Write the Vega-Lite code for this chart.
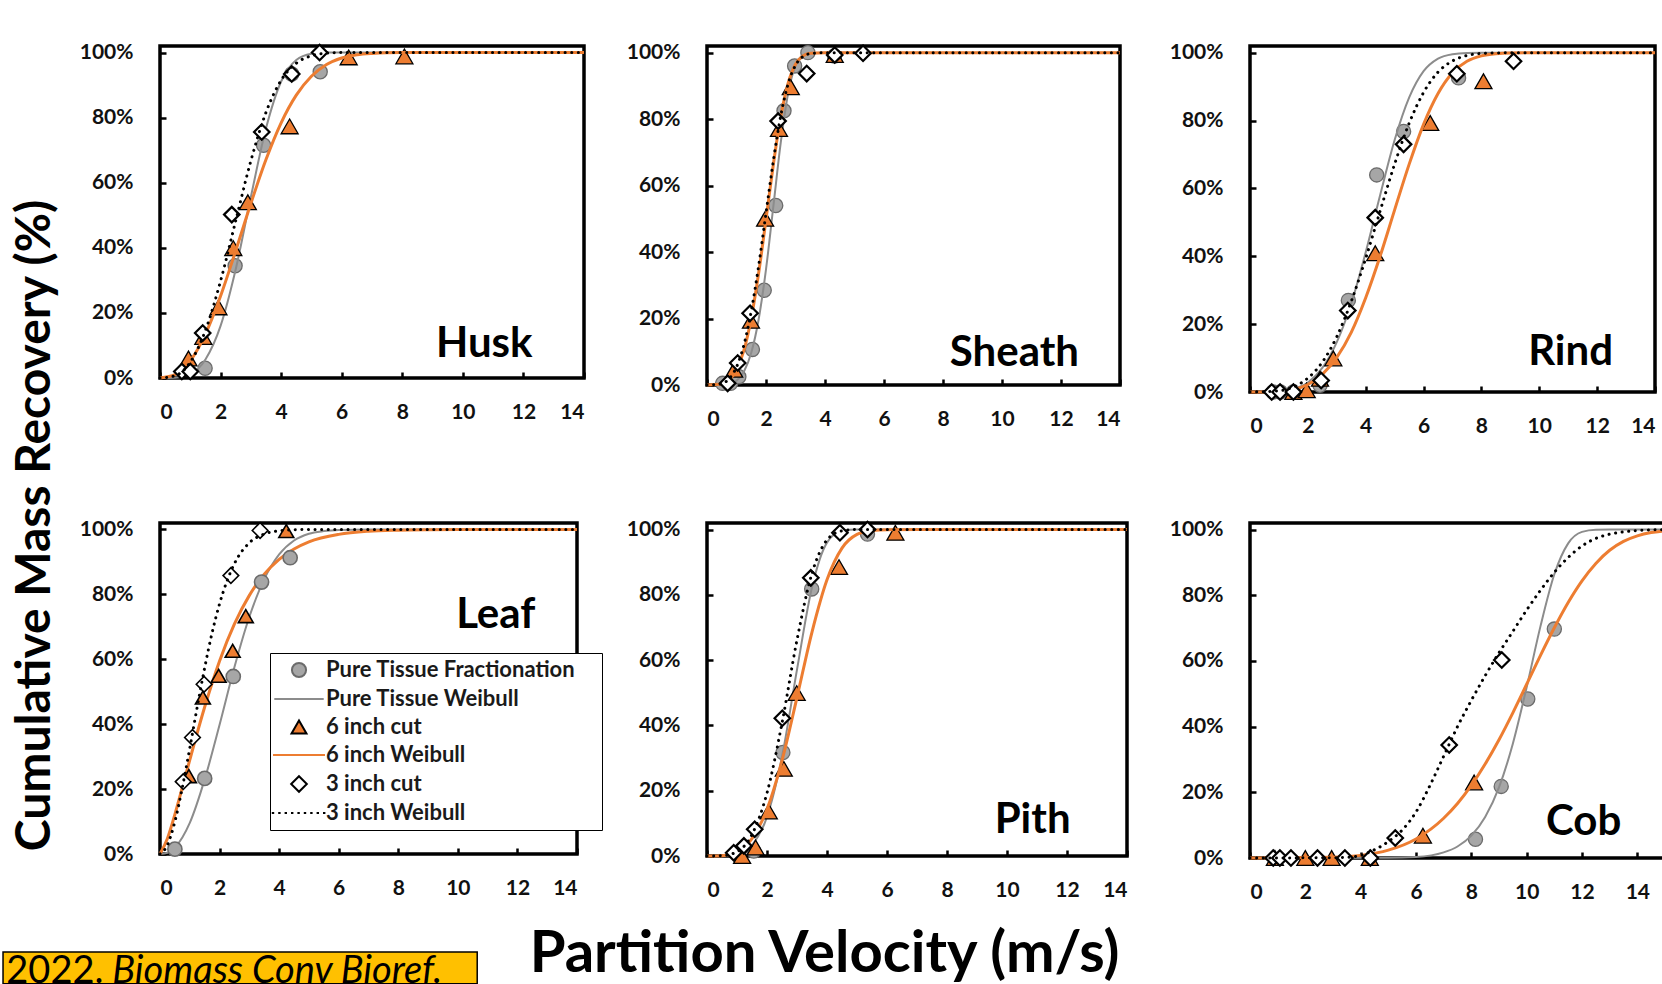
{
"$schema": "https://vega.github.io/schema/vega-lite/v6.json",
"background": "white",
"padding": {"left": 0, "top": 38, "right": 0, "bottom": 0},
"columns": 3,
"align": "none",
"bounds": "flush",
"spacing": {"row": 131, "column": 123},
"resolve": {"scale": {"shape": "independent", "fill": "independent", "stroke": "independent", "size": "independent"}, "legend": {"shape": "independent", "fill": "independent", "stroke": "independent", "size": "independent"}},
"config": {
  "font": "Lato",
  "view": {"stroke": "#000", "strokeWidth": 3.5},
  "axis": {"labelFont": "Lato", "labelFontSize": 21, "labelFontWeight": "bold", "labelColor": "#111", "domain": false, "grid": false, "ticks": true, "tickColor": "#000", "tickWidth": 2.5, "tickSize": -6, "titleFont": "Lato", "titleFontWeight": "bold", "titleColor": "#000"},
  "axisX": {"labelPadding": 29},
  "axisY": {"labelPadding": 33}
},
"datasets": {"d": [
{"p":"Husk","s":"Pure Tissue Fractionation","x":1.49,"y":0.03},{"p":"Husk","s":"Pure Tissue Fractionation","x":2.48,"y":0.345},{"p":"Husk","s":"Pure Tissue Fractionation","x":3.42,"y":0.715},{"p":"Husk","s":"Pure Tissue Fractionation","x":4.35,"y":0.934},{"p":"Husk","s":"Pure Tissue Fractionation","x":5.29,"y":0.941},
{"p":"Husk","s":"6 inch cut","x":0.94,"y":0.06},{"p":"Husk","s":"6 inch cut","x":1.43,"y":0.126},{"p":"Husk","s":"6 inch cut","x":1.93,"y":0.217},{"p":"Husk","s":"6 inch cut","x":2.42,"y":0.399},{"p":"Husk","s":"6 inch cut","x":2.9,"y":0.54},{"p":"Husk","s":"6 inch cut","x":4.28,"y":0.773},{"p":"Husk","s":"6 inch cut","x":6.23,"y":0.985},{"p":"Husk","s":"6 inch cut","x":8.07,"y":0.988},
{"p":"Husk","s":"3 inch cut","x":0.72,"y":0.02},{"p":"Husk","s":"3 inch cut","x":1.0,"y":0.02},{"p":"Husk","s":"3 inch cut","x":1.41,"y":0.138},{"p":"Husk","s":"3 inch cut","x":2.37,"y":0.502},{"p":"Husk","s":"3 inch cut","x":3.36,"y":0.756},{"p":"Husk","s":"3 inch cut","x":4.35,"y":0.934},{"p":"Husk","s":"3 inch cut","x":5.27,"y":1.0},
{"p":"Sheath","s":"Pure Tissue Fractionation","x":0.53,"y":0.005},{"p":"Sheath","s":"Pure Tissue Fractionation","x":0.8,"y":0.005},{"p":"Sheath","s":"Pure Tissue Fractionation","x":1.08,"y":0.025},{"p":"Sheath","s":"Pure Tissue Fractionation","x":1.54,"y":0.107},{"p":"Sheath","s":"Pure Tissue Fractionation","x":1.94,"y":0.285},{"p":"Sheath","s":"Pure Tissue Fractionation","x":2.33,"y":0.54},{"p":"Sheath","s":"Pure Tissue Fractionation","x":2.61,"y":0.825},{"p":"Sheath","s":"Pure Tissue Fractionation","x":2.97,"y":0.96},{"p":"Sheath","s":"Pure Tissue Fractionation","x":3.42,"y":1.0},{"p":"Sheath","s":"Pure Tissue Fractionation","x":4.32,"y":0.99},
{"p":"Sheath","s":"6 inch cut","x":0.92,"y":0.046},{"p":"Sheath","s":"6 inch cut","x":1.49,"y":0.193},{"p":"Sheath","s":"6 inch cut","x":1.97,"y":0.5},{"p":"Sheath","s":"6 inch cut","x":2.44,"y":0.77},{"p":"Sheath","s":"6 inch cut","x":2.84,"y":0.896},{"p":"Sheath","s":"6 inch cut","x":4.33,"y":0.993},
{"p":"Sheath","s":"3 inch cut","x":0.7,"y":0.005},{"p":"Sheath","s":"3 inch cut","x":1.04,"y":0.066},{"p":"Sheath","s":"3 inch cut","x":1.46,"y":0.216},{"p":"Sheath","s":"3 inch cut","x":2.41,"y":0.794},{"p":"Sheath","s":"3 inch cut","x":3.38,"y":0.937},{"p":"Sheath","s":"3 inch cut","x":4.33,"y":0.993},{"p":"Sheath","s":"3 inch cut","x":5.29,"y":0.998},
{"p":"Rind","s":"Pure Tissue Fractionation","x":0.8,"y":0},{"p":"Rind","s":"Pure Tissue Fractionation","x":1.05,"y":0},{"p":"Rind","s":"Pure Tissue Fractionation","x":1.5,"y":0},{"p":"Rind","s":"Pure Tissue Fractionation","x":2.42,"y":0.02},{"p":"Rind","s":"Pure Tissue Fractionation","x":3.4,"y":0.27},{"p":"Rind","s":"Pure Tissue Fractionation","x":4.38,"y":0.64},{"p":"Rind","s":"Pure Tissue Fractionation","x":5.31,"y":0.768},{"p":"Rind","s":"Pure Tissue Fractionation","x":7.21,"y":0.926},
{"p":"Rind","s":"6 inch cut","x":1.5,"y":0},{"p":"Rind","s":"6 inch cut","x":1.96,"y":0.005},{"p":"Rind","s":"6 inch cut","x":2.42,"y":0.039},{"p":"Rind","s":"6 inch cut","x":2.88,"y":0.099},{"p":"Rind","s":"6 inch cut","x":4.33,"y":0.409},{"p":"Rind","s":"6 inch cut","x":6.23,"y":0.793},{"p":"Rind","s":"6 inch cut","x":8.07,"y":0.916},
{"p":"Rind","s":"3 inch cut","x":0.75,"y":0},{"p":"Rind","s":"3 inch cut","x":1.04,"y":0},{"p":"Rind","s":"3 inch cut","x":1.5,"y":0},{"p":"Rind","s":"3 inch cut","x":2.46,"y":0.034},{"p":"Rind","s":"3 inch cut","x":3.38,"y":0.24},{"p":"Rind","s":"3 inch cut","x":4.33,"y":0.514},{"p":"Rind","s":"3 inch cut","x":5.31,"y":0.73},{"p":"Rind","s":"3 inch cut","x":7.15,"y":0.938},{"p":"Rind","s":"3 inch cut","x":9.11,"y":0.975},
{"p":"Leaf","s":"Pure Tissue Fractionation","x":0.5,"y":0.015},{"p":"Leaf","s":"Pure Tissue Fractionation","x":1.5,"y":0.233},{"p":"Leaf","s":"Pure Tissue Fractionation","x":2.46,"y":0.547},{"p":"Leaf","s":"Pure Tissue Fractionation","x":3.41,"y":0.838},{"p":"Leaf","s":"Pure Tissue Fractionation","x":4.37,"y":0.913},
{"p":"Leaf","s":"6 inch cut","x":0.97,"y":0.24},{"p":"Leaf","s":"6 inch cut","x":1.44,"y":0.482},{"p":"Leaf","s":"6 inch cut","x":1.97,"y":0.549},{"p":"Leaf","s":"6 inch cut","x":2.44,"y":0.626},{"p":"Leaf","s":"6 inch cut","x":2.88,"y":0.733},{"p":"Leaf","s":"6 inch cut","x":4.24,"y":0.995},
{"p":"Leaf","s":"3 inch cut","x":0.78,"y":0.223},{"p":"Leaf","s":"3 inch cut","x":1.09,"y":0.359},{"p":"Leaf","s":"3 inch cut","x":1.48,"y":0.523},{"p":"Leaf","s":"3 inch cut","x":2.38,"y":0.858},{"p":"Leaf","s":"3 inch cut","x":3.36,"y":0.997},
{"p":"Pith","s":"Pure Tissue Fractionation","x":1.56,"y":0.015},{"p":"Pith","s":"Pure Tissue Fractionation","x":2.53,"y":0.317},{"p":"Pith","s":"Pure Tissue Fractionation","x":3.49,"y":0.818},{"p":"Pith","s":"Pure Tissue Fractionation","x":5.35,"y":0.986},
{"p":"Pith","s":"6 inch cut","x":1.17,"y":0},{"p":"Pith","s":"6 inch cut","x":1.62,"y":0.026},{"p":"Pith","s":"6 inch cut","x":2.06,"y":0.136},{"p":"Pith","s":"6 inch cut","x":2.56,"y":0.267},{"p":"Pith","s":"6 inch cut","x":2.99,"y":0.499},{"p":"Pith","s":"6 inch cut","x":4.4,"y":0.885},{"p":"Pith","s":"6 inch cut","x":6.28,"y":0.99},
{"p":"Pith","s":"3 inch cut","x":0.89,"y":0.01},{"p":"Pith","s":"3 inch cut","x":1.23,"y":0.031},{"p":"Pith","s":"3 inch cut","x":1.59,"y":0.082},{"p":"Pith","s":"3 inch cut","x":2.51,"y":0.422},{"p":"Pith","s":"3 inch cut","x":3.46,"y":0.852},{"p":"Pith","s":"3 inch cut","x":4.43,"y":0.99},{"p":"Pith","s":"3 inch cut","x":5.35,"y":1.0},
{"p":"Cob","s":"Pure Tissue Fractionation","x":8.15,"y":0.057},{"p":"Cob","s":"Pure Tissue Fractionation","x":9.08,"y":0.218},{"p":"Cob","s":"Pure Tissue Fractionation","x":10.04,"y":0.484},{"p":"Cob","s":"Pure Tissue Fractionation","x":11.0,"y":0.697},
{"p":"Cob","s":"6 inch cut","x":0.9,"y":0},{"p":"Cob","s":"6 inch cut","x":2.0,"y":0},{"p":"Cob","s":"6 inch cut","x":2.95,"y":0},{"p":"Cob","s":"6 inch cut","x":4.33,"y":0},{"p":"Cob","s":"6 inch cut","x":6.25,"y":0.068},{"p":"Cob","s":"6 inch cut","x":8.1,"y":0.23},
{"p":"Cob","s":"3 inch cut","x":0.84,"y":0},{"p":"Cob","s":"3 inch cut","x":1.08,"y":0},{"p":"Cob","s":"3 inch cut","x":1.48,"y":0},{"p":"Cob","s":"3 inch cut","x":2.44,"y":0},{"p":"Cob","s":"3 inch cut","x":3.43,"y":0},{"p":"Cob","s":"3 inch cut","x":4.35,"y":0},{"p":"Cob","s":"3 inch cut","x":5.25,"y":0.061},{"p":"Cob","s":"3 inch cut","x":7.2,"y":0.344},{"p":"Cob","s":"3 inch cut","x":9.1,"y":0.603},
{"p":"Husk","s":"Pure Tissue Weibull","x":0,"y":0},{"p":"Husk","s":"Pure Tissue Weibull","x":0.5,"y":0.001},{"p":"Husk","s":"Pure Tissue Weibull","x":1,"y":0.012},{"p":"Husk","s":"Pure Tissue Weibull","x":1.5,"y":0.057},{"p":"Husk","s":"Pure Tissue Weibull","x":2,"y":0.16},{"p":"Husk","s":"Pure Tissue Weibull","x":2.5,"y":0.334},{"p":"Husk","s":"Pure Tissue Weibull","x":3,"y":0.556},{"p":"Husk","s":"Pure Tissue Weibull","x":3.5,"y":0.767},{"p":"Husk","s":"Pure Tissue Weibull","x":4,"y":0.911},{"p":"Husk","s":"Pure Tissue Weibull","x":4.5,"y":0.977},{"p":"Husk","s":"Pure Tissue Weibull","x":5,"y":0.996},{"p":"Husk","s":"Pure Tissue Weibull","x":5.5,"y":1},{"p":"Husk","s":"Pure Tissue Weibull","x":14,"y":1},
{"p":"Husk","s":"6 inch Weibull","x":0,"y":0},{"p":"Husk","s":"6 inch Weibull","x":0.5,"y":0.01},{"p":"Husk","s":"6 inch Weibull","x":1,"y":0.053},{"p":"Husk","s":"6 inch Weibull","x":1.5,"y":0.135},{"p":"Husk","s":"6 inch Weibull","x":2,"y":0.252},{"p":"Husk","s":"6 inch Weibull","x":2.5,"y":0.391},{"p":"Husk","s":"6 inch Weibull","x":3,"y":0.536},{"p":"Husk","s":"6 inch Weibull","x":3.5,"y":0.671},{"p":"Husk","s":"6 inch Weibull","x":4,"y":0.784},{"p":"Husk","s":"6 inch Weibull","x":4.5,"y":0.869},{"p":"Husk","s":"6 inch Weibull","x":5,"y":0.927},{"p":"Husk","s":"6 inch Weibull","x":5.5,"y":0.963},{"p":"Husk","s":"6 inch Weibull","x":6,"y":0.983},{"p":"Husk","s":"6 inch Weibull","x":6.5,"y":0.993},{"p":"Husk","s":"6 inch Weibull","x":7,"y":0.997},{"p":"Husk","s":"6 inch Weibull","x":8,"y":0.9997},{"p":"Husk","s":"6 inch Weibull","x":9,"y":1},{"p":"Husk","s":"6 inch Weibull","x":14,"y":1},
{"p":"Husk","s":"3 inch Weibull","x":0,"y":0},{"p":"Husk","s":"3 inch Weibull","x":0.5,"y":0.007},{"p":"Husk","s":"3 inch Weibull","x":1,"y":0.049},{"p":"Husk","s":"3 inch Weibull","x":1.5,"y":0.146},{"p":"Husk","s":"3 inch Weibull","x":2,"y":0.298},{"p":"Husk","s":"3 inch Weibull","x":2.5,"y":0.483},{"p":"Husk","s":"3 inch Weibull","x":3,"y":0.667},{"p":"Husk","s":"3 inch Weibull","x":3.5,"y":0.816},{"p":"Husk","s":"3 inch Weibull","x":4,"y":0.915},{"p":"Husk","s":"3 inch Weibull","x":4.5,"y":0.967},{"p":"Husk","s":"3 inch Weibull","x":5,"y":0.99},{"p":"Husk","s":"3 inch Weibull","x":5.5,"y":0.998},{"p":"Husk","s":"3 inch Weibull","x":6,"y":1},{"p":"Husk","s":"3 inch Weibull","x":14,"y":1},
{"p":"Sheath","s":"Pure Tissue Weibull","x":0,"y":0},{"p":"Sheath","s":"Pure Tissue Weibull","x":0.5,"y":0.0004},{"p":"Sheath","s":"Pure Tissue Weibull","x":0.75,"y":0.003},{"p":"Sheath","s":"Pure Tissue Weibull","x":1,"y":0.013},{"p":"Sheath","s":"Pure Tissue Weibull","x":1.25,"y":0.04},{"p":"Sheath","s":"Pure Tissue Weibull","x":1.5,"y":0.097},{"p":"Sheath","s":"Pure Tissue Weibull","x":1.75,"y":0.197},{"p":"Sheath","s":"Pure Tissue Weibull","x":2,"y":0.348},{"p":"Sheath","s":"Pure Tissue Weibull","x":2.25,"y":0.538},{"p":"Sheath","s":"Pure Tissue Weibull","x":2.5,"y":0.729},{"p":"Sheath","s":"Pure Tissue Weibull","x":2.75,"y":0.878},{"p":"Sheath","s":"Pure Tissue Weibull","x":3,"y":0.961},{"p":"Sheath","s":"Pure Tissue Weibull","x":3.25,"y":0.992},{"p":"Sheath","s":"Pure Tissue Weibull","x":3.5,"y":0.999},{"p":"Sheath","s":"Pure Tissue Weibull","x":4,"y":1},{"p":"Sheath","s":"Pure Tissue Weibull","x":14,"y":1},
{"p":"Sheath","s":"6 inch Weibull","x":0,"y":0},{"p":"Sheath","s":"6 inch Weibull","x":0.5,"y":0.003},{"p":"Sheath","s":"6 inch Weibull","x":0.75,"y":0.015},{"p":"Sheath","s":"6 inch Weibull","x":1,"y":0.045},{"p":"Sheath","s":"6 inch Weibull","x":1.25,"y":0.104},{"p":"Sheath","s":"6 inch Weibull","x":1.5,"y":0.201},{"p":"Sheath","s":"6 inch Weibull","x":1.75,"y":0.336},{"p":"Sheath","s":"6 inch Weibull","x":2,"y":0.498},{"p":"Sheath","s":"6 inch Weibull","x":2.25,"y":0.664},{"p":"Sheath","s":"6 inch Weibull","x":2.5,"y":0.807},{"p":"Sheath","s":"6 inch Weibull","x":2.75,"y":0.908},{"p":"Sheath","s":"6 inch Weibull","x":3,"y":0.965},{"p":"Sheath","s":"6 inch Weibull","x":3.25,"y":0.99},{"p":"Sheath","s":"6 inch Weibull","x":3.5,"y":0.998},{"p":"Sheath","s":"6 inch Weibull","x":4,"y":1},{"p":"Sheath","s":"6 inch Weibull","x":14,"y":1},
{"p":"Sheath","s":"3 inch Weibull","x":0,"y":0},{"p":"Sheath","s":"3 inch Weibull","x":0.5,"y":0.004},{"p":"Sheath","s":"3 inch Weibull","x":0.75,"y":0.019},{"p":"Sheath","s":"3 inch Weibull","x":1,"y":0.054},{"p":"Sheath","s":"3 inch Weibull","x":1.25,"y":0.12},{"p":"Sheath","s":"3 inch Weibull","x":1.5,"y":0.222},{"p":"Sheath","s":"3 inch Weibull","x":1.75,"y":0.358},{"p":"Sheath","s":"3 inch Weibull","x":2,"y":0.517},{"p":"Sheath","s":"3 inch Weibull","x":2.25,"y":0.675},{"p":"Sheath","s":"3 inch Weibull","x":2.5,"y":0.81},{"p":"Sheath","s":"3 inch Weibull","x":2.75,"y":0.906},{"p":"Sheath","s":"3 inch Weibull","x":3,"y":0.962},{"p":"Sheath","s":"3 inch Weibull","x":3.25,"y":0.988},{"p":"Sheath","s":"3 inch Weibull","x":3.5,"y":0.997},{"p":"Sheath","s":"3 inch Weibull","x":4,"y":1},{"p":"Sheath","s":"3 inch Weibull","x":14,"y":1},
{"p":"Rind","s":"Pure Tissue Weibull","x":0,"y":0},{"p":"Rind","s":"Pure Tissue Weibull","x":1,"y":0.002},{"p":"Rind","s":"Pure Tissue Weibull","x":1.5,"y":0.009},{"p":"Rind","s":"Pure Tissue Weibull","x":2,"y":0.028},{"p":"Rind","s":"Pure Tissue Weibull","x":2.5,"y":0.071},{"p":"Rind","s":"Pure Tissue Weibull","x":3,"y":0.147},{"p":"Rind","s":"Pure Tissue Weibull","x":3.5,"y":0.261},{"p":"Rind","s":"Pure Tissue Weibull","x":4,"y":0.412},{"p":"Rind","s":"Pure Tissue Weibull","x":4.5,"y":0.581},{"p":"Rind","s":"Pure Tissue Weibull","x":5,"y":0.743},{"p":"Rind","s":"Pure Tissue Weibull","x":5.5,"y":0.868},{"p":"Rind","s":"Pure Tissue Weibull","x":6,"y":0.946},{"p":"Rind","s":"Pure Tissue Weibull","x":6.5,"y":0.983},{"p":"Rind","s":"Pure Tissue Weibull","x":7,"y":0.996},{"p":"Rind","s":"Pure Tissue Weibull","x":7.5,"y":0.9995},{"p":"Rind","s":"Pure Tissue Weibull","x":8,"y":1},{"p":"Rind","s":"Pure Tissue Weibull","x":14,"y":1},
{"p":"Rind","s":"6 inch Weibull","x":0,"y":0},{"p":"Rind","s":"6 inch Weibull","x":1,"y":0.0015},{"p":"Rind","s":"6 inch Weibull","x":1.5,"y":0.007},{"p":"Rind","s":"6 inch Weibull","x":2,"y":0.022},{"p":"Rind","s":"6 inch Weibull","x":2.5,"y":0.052},{"p":"Rind","s":"6 inch Weibull","x":3,"y":0.102},{"p":"Rind","s":"6 inch Weibull","x":3.5,"y":0.176},{"p":"Rind","s":"6 inch Weibull","x":4,"y":0.278},{"p":"Rind","s":"6 inch Weibull","x":4.5,"y":0.401},{"p":"Rind","s":"6 inch Weibull","x":5,"y":0.537},{"p":"Rind","s":"6 inch Weibull","x":5.5,"y":0.671},{"p":"Rind","s":"6 inch Weibull","x":6,"y":0.789},{"p":"Rind","s":"6 inch Weibull","x":6.5,"y":0.88},{"p":"Rind","s":"6 inch Weibull","x":7,"y":0.941},{"p":"Rind","s":"6 inch Weibull","x":7.5,"y":0.975},{"p":"Rind","s":"6 inch Weibull","x":8,"y":0.991},{"p":"Rind","s":"6 inch Weibull","x":8.5,"y":0.9975},{"p":"Rind","s":"6 inch Weibull","x":9,"y":0.9995},{"p":"Rind","s":"6 inch Weibull","x":10,"y":1},{"p":"Rind","s":"6 inch Weibull","x":14,"y":1},
{"p":"Rind","s":"3 inch Weibull","x":0,"y":0},{"p":"Rind","s":"3 inch Weibull","x":1,"y":0.0035},{"p":"Rind","s":"3 inch Weibull","x":1.5,"y":0.015},{"p":"Rind","s":"3 inch Weibull","x":2,"y":0.041},{"p":"Rind","s":"3 inch Weibull","x":2.5,"y":0.088},{"p":"Rind","s":"3 inch Weibull","x":3,"y":0.163},{"p":"Rind","s":"3 inch Weibull","x":3.5,"y":0.267},{"p":"Rind","s":"3 inch Weibull","x":4,"y":0.394},{"p":"Rind","s":"3 inch Weibull","x":4.5,"y":0.534},{"p":"Rind","s":"3 inch Weibull","x":5,"y":0.672},{"p":"Rind","s":"3 inch Weibull","x":5.5,"y":0.792},{"p":"Rind","s":"3 inch Weibull","x":6,"y":0.883},{"p":"Rind","s":"3 inch Weibull","x":6.5,"y":0.943},{"p":"Rind","s":"3 inch Weibull","x":7,"y":0.976},{"p":"Rind","s":"3 inch Weibull","x":7.5,"y":0.992},{"p":"Rind","s":"3 inch Weibull","x":8,"y":0.998},{"p":"Rind","s":"3 inch Weibull","x":9,"y":1},{"p":"Rind","s":"3 inch Weibull","x":14,"y":1},
{"p":"Leaf","s":"Pure Tissue Weibull","x":0,"y":0},{"p":"Leaf","s":"Pure Tissue Weibull","x":0.25,"y":0.004},{"p":"Leaf","s":"Pure Tissue Weibull","x":0.5,"y":0.02},{"p":"Leaf","s":"Pure Tissue Weibull","x":0.75,"y":0.051},{"p":"Leaf","s":"Pure Tissue Weibull","x":1,"y":0.096},{"p":"Leaf","s":"Pure Tissue Weibull","x":1.5,"y":0.23},{"p":"Leaf","s":"Pure Tissue Weibull","x":2,"y":0.398},{"p":"Leaf","s":"Pure Tissue Weibull","x":2.5,"y":0.576},{"p":"Leaf","s":"Pure Tissue Weibull","x":3,"y":0.731},{"p":"Leaf","s":"Pure Tissue Weibull","x":3.5,"y":0.847},{"p":"Leaf","s":"Pure Tissue Weibull","x":4,"y":0.923},{"p":"Leaf","s":"Pure Tissue Weibull","x":4.5,"y":0.966},{"p":"Leaf","s":"Pure Tissue Weibull","x":5,"y":0.987},{"p":"Leaf","s":"Pure Tissue Weibull","x":5.5,"y":0.995},{"p":"Leaf","s":"Pure Tissue Weibull","x":6,"y":0.9986},{"p":"Leaf","s":"Pure Tissue Weibull","x":7,"y":1},{"p":"Leaf","s":"Pure Tissue Weibull","x":14,"y":1},
{"p":"Leaf","s":"6 inch Weibull","x":0,"y":0},{"p":"Leaf","s":"6 inch Weibull","x":0.25,"y":0.048},{"p":"Leaf","s":"6 inch Weibull","x":0.5,"y":0.122},{"p":"Leaf","s":"6 inch Weibull","x":0.75,"y":0.205},{"p":"Leaf","s":"6 inch Weibull","x":1,"y":0.29},{"p":"Leaf","s":"6 inch Weibull","x":1.5,"y":0.453},{"p":"Leaf","s":"6 inch Weibull","x":2,"y":0.595},{"p":"Leaf","s":"6 inch Weibull","x":2.5,"y":0.709},{"p":"Leaf","s":"6 inch Weibull","x":3,"y":0.797},{"p":"Leaf","s":"6 inch Weibull","x":3.5,"y":0.862},{"p":"Leaf","s":"6 inch Weibull","x":4,"y":0.908},{"p":"Leaf","s":"6 inch Weibull","x":4.5,"y":0.94},{"p":"Leaf","s":"6 inch Weibull","x":5,"y":0.962},{"p":"Leaf","s":"6 inch Weibull","x":6,"y":0.985},{"p":"Leaf","s":"6 inch Weibull","x":7,"y":0.9946},{"p":"Leaf","s":"6 inch Weibull","x":8,"y":0.998},{"p":"Leaf","s":"6 inch Weibull","x":9,"y":0.9994},{"p":"Leaf","s":"6 inch Weibull","x":10,"y":1},{"p":"Leaf","s":"6 inch Weibull","x":14,"y":1},
{"p":"Leaf","s":"3 inch Weibull","x":0,"y":0},{"p":"Leaf","s":"3 inch Weibull","x":0.25,"y":0.028},{"p":"Leaf","s":"3 inch Weibull","x":0.5,"y":0.1},{"p":"Leaf","s":"3 inch Weibull","x":0.75,"y":0.205},{"p":"Leaf","s":"3 inch Weibull","x":1,"y":0.326},{"p":"Leaf","s":"3 inch Weibull","x":1.25,"y":0.453},{"p":"Leaf","s":"3 inch Weibull","x":1.5,"y":0.574},{"p":"Leaf","s":"3 inch Weibull","x":1.75,"y":0.682},{"p":"Leaf","s":"3 inch Weibull","x":2,"y":0.771},{"p":"Leaf","s":"3 inch Weibull","x":2.5,"y":0.895},{"p":"Leaf","s":"3 inch Weibull","x":3,"y":0.959},{"p":"Leaf","s":"3 inch Weibull","x":3.5,"y":0.986},{"p":"Leaf","s":"3 inch Weibull","x":4,"y":0.996},{"p":"Leaf","s":"3 inch Weibull","x":4.5,"y":0.999},{"p":"Leaf","s":"3 inch Weibull","x":5,"y":1},{"p":"Leaf","s":"3 inch Weibull","x":14,"y":1},
{"p":"Pith","s":"Pure Tissue Weibull","x":0,"y":0},{"p":"Pith","s":"Pure Tissue Weibull","x":0.5,"y":0},{"p":"Pith","s":"Pure Tissue Weibull","x":1,"y":0.005},{"p":"Pith","s":"Pure Tissue Weibull","x":1.5,"y":0.033},{"p":"Pith","s":"Pure Tissue Weibull","x":2,"y":0.12},{"p":"Pith","s":"Pure Tissue Weibull","x":2.5,"y":0.304},{"p":"Pith","s":"Pure Tissue Weibull","x":3,"y":0.571},{"p":"Pith","s":"Pure Tissue Weibull","x":3.5,"y":0.823},{"p":"Pith","s":"Pure Tissue Weibull","x":4,"y":0.96},{"p":"Pith","s":"Pure Tissue Weibull","x":4.5,"y":0.996},{"p":"Pith","s":"Pure Tissue Weibull","x":5,"y":1},{"p":"Pith","s":"Pure Tissue Weibull","x":14,"y":1},
{"p":"Pith","s":"6 inch Weibull","x":0,"y":0},{"p":"Pith","s":"6 inch Weibull","x":0.5,"y":0.001},{"p":"Pith","s":"6 inch Weibull","x":1,"y":0.013},{"p":"Pith","s":"6 inch Weibull","x":1.5,"y":0.053},{"p":"Pith","s":"6 inch Weibull","x":2,"y":0.143},{"p":"Pith","s":"6 inch Weibull","x":2.5,"y":0.292},{"p":"Pith","s":"6 inch Weibull","x":3,"y":0.486},{"p":"Pith","s":"6 inch Weibull","x":3.5,"y":0.686},{"p":"Pith","s":"6 inch Weibull","x":4,"y":0.846},{"p":"Pith","s":"6 inch Weibull","x":4.5,"y":0.943},{"p":"Pith","s":"6 inch Weibull","x":5,"y":0.985},{"p":"Pith","s":"6 inch Weibull","x":5.5,"y":0.997},{"p":"Pith","s":"6 inch Weibull","x":6,"y":0.9997},{"p":"Pith","s":"6 inch Weibull","x":7,"y":1},{"p":"Pith","s":"6 inch Weibull","x":14,"y":1},
{"p":"Pith","s":"3 inch Weibull","x":0,"y":0},{"p":"Pith","s":"3 inch Weibull","x":0.5,"y":0.001},{"p":"Pith","s":"3 inch Weibull","x":1,"y":0.013},{"p":"Pith","s":"3 inch Weibull","x":1.5,"y":0.066},{"p":"Pith","s":"3 inch Weibull","x":2,"y":0.193},{"p":"Pith","s":"3 inch Weibull","x":2.5,"y":0.407},{"p":"Pith","s":"3 inch Weibull","x":3,"y":0.662},{"p":"Pith","s":"3 inch Weibull","x":3.5,"y":0.866},{"p":"Pith","s":"3 inch Weibull","x":4,"y":0.968},{"p":"Pith","s":"3 inch Weibull","x":4.5,"y":0.996},{"p":"Pith","s":"3 inch Weibull","x":5,"y":1},{"p":"Pith","s":"3 inch Weibull","x":14,"y":1},
{"p":"Cob","s":"Pure Tissue Weibull","x":0,"y":0},{"p":"Cob","s":"Pure Tissue Weibull","x":5,"y":0.0005},{"p":"Cob","s":"Pure Tissue Weibull","x":6,"y":0.003},{"p":"Cob","s":"Pure Tissue Weibull","x":7,"y":0.017},{"p":"Cob","s":"Pure Tissue Weibull","x":7.5,"y":0.035},{"p":"Cob","s":"Pure Tissue Weibull","x":8,"y":0.068},{"p":"Cob","s":"Pure Tissue Weibull","x":8.5,"y":0.125},{"p":"Cob","s":"Pure Tissue Weibull","x":9,"y":0.215},{"p":"Cob","s":"Pure Tissue Weibull","x":9.5,"y":0.348},{"p":"Cob","s":"Pure Tissue Weibull","x":10,"y":0.52},{"p":"Cob","s":"Pure Tissue Weibull","x":10.5,"y":0.706},{"p":"Cob","s":"Pure Tissue Weibull","x":11,"y":0.864},{"p":"Cob","s":"Pure Tissue Weibull","x":11.5,"y":0.958},{"p":"Cob","s":"Pure Tissue Weibull","x":12,"y":0.993},{"p":"Cob","s":"Pure Tissue Weibull","x":12.5,"y":0.9995},{"p":"Cob","s":"Pure Tissue Weibull","x":13,"y":1},{"p":"Cob","s":"Pure Tissue Weibull","x":15,"y":1},
{"p":"Cob","s":"6 inch Weibull","x":0,"y":0},{"p":"Cob","s":"6 inch Weibull","x":3,"y":0.002},{"p":"Cob","s":"6 inch Weibull","x":4,"y":0.008},{"p":"Cob","s":"6 inch Weibull","x":5,"y":0.024},{"p":"Cob","s":"6 inch Weibull","x":6,"y":0.058},{"p":"Cob","s":"6 inch Weibull","x":7,"y":0.121},{"p":"Cob","s":"6 inch Weibull","x":7.5,"y":0.166},{"p":"Cob","s":"6 inch Weibull","x":8,"y":0.221},{"p":"Cob","s":"6 inch Weibull","x":8.5,"y":0.286},{"p":"Cob","s":"6 inch Weibull","x":9,"y":0.36},{"p":"Cob","s":"6 inch Weibull","x":9.5,"y":0.442},{"p":"Cob","s":"6 inch Weibull","x":10,"y":0.529},{"p":"Cob","s":"6 inch Weibull","x":10.5,"y":0.617},{"p":"Cob","s":"6 inch Weibull","x":11,"y":0.701},{"p":"Cob","s":"6 inch Weibull","x":11.5,"y":0.778},{"p":"Cob","s":"6 inch Weibull","x":12,"y":0.844},{"p":"Cob","s":"6 inch Weibull","x":12.5,"y":0.897},{"p":"Cob","s":"6 inch Weibull","x":13,"y":0.937},{"p":"Cob","s":"6 inch Weibull","x":13.5,"y":0.964},{"p":"Cob","s":"6 inch Weibull","x":14,"y":0.981},{"p":"Cob","s":"6 inch Weibull","x":14.5,"y":0.991},{"p":"Cob","s":"6 inch Weibull","x":15,"y":0.996},
{"p":"Cob","s":"3 inch Weibull","x":0,"y":0},{"p":"Cob","s":"3 inch Weibull","x":3,"y":0.001},{"p":"Cob","s":"3 inch Weibull","x":3.5,"y":0.002},{"p":"Cob","s":"3 inch Weibull","x":4,"y":0.008},{"p":"Cob","s":"3 inch Weibull","x":4.5,"y":0.025},{"p":"Cob","s":"3 inch Weibull","x":5,"y":0.05},{"p":"Cob","s":"3 inch Weibull","x":5.5,"y":0.085},{"p":"Cob","s":"3 inch Weibull","x":6,"y":0.14},{"p":"Cob","s":"3 inch Weibull","x":6.5,"y":0.22},{"p":"Cob","s":"3 inch Weibull","x":7,"y":0.31},{"p":"Cob","s":"3 inch Weibull","x":7.5,"y":0.4},{"p":"Cob","s":"3 inch Weibull","x":8,"y":0.48},{"p":"Cob","s":"3 inch Weibull","x":8.5,"y":0.555},{"p":"Cob","s":"3 inch Weibull","x":9,"y":0.625},{"p":"Cob","s":"3 inch Weibull","x":9.5,"y":0.69},{"p":"Cob","s":"3 inch Weibull","x":10,"y":0.755},{"p":"Cob","s":"3 inch Weibull","x":10.5,"y":0.815},{"p":"Cob","s":"3 inch Weibull","x":11,"y":0.87},{"p":"Cob","s":"3 inch Weibull","x":11.5,"y":0.915},{"p":"Cob","s":"3 inch Weibull","x":12,"y":0.95},{"p":"Cob","s":"3 inch Weibull","x":12.5,"y":0.973},{"p":"Cob","s":"3 inch Weibull","x":13,"y":0.986},{"p":"Cob","s":"3 inch Weibull","x":13.5,"y":0.993},{"p":"Cob","s":"3 inch Weibull","x":14,"y":0.997},{"p":"Cob","s":"3 inch Weibull","x":15,"y":1}
],
"labs": [{"p":"Husk","lab":"Husk"},{"p":"Sheath","lab":"Sheath"},{"p":"Rind","lab":"Rind"},{"p":"Leaf","lab":"Leaf"},{"p":"Pith","lab":"Pith"},{"p":"Cob","lab":"Cob"},{"p":"box","lab":"2022. Biomass Conv Bioref."},{"p":"year","lab":"2022."},{"p":"journal","lab":"Biomass Conv Bioref."}]
},
"concat": [
{
 "width": 424, "height": 332,
 "layer": [
  {"data": {"name": "d"},
   "encoding": {
    "x": {"field": "x", "type": "quantitative", "scale": {"domain": [0, 14], "nice": false, "zero": false}, "axis": {"values": [0,2,4,6,8,10,12,14], "title": null}},
    "y": {"field": "y", "type": "quantitative", "scale": {"domain": [0, 1.02], "nice": false}, "axis": {"values": [0,0.2,0.4,0.6,0.8,1], "format": ".0%", "title": "Cumulative Mass Recovery (%)", "titleX": -111, "titleY": 479, "titleAngle": -90, "titleAlign": "center", "titleBaseline": "alphabetic", "titleFontSize": 48}}
   },
   "layer": [
    {"transform": [{"filter": "datum.p=='Husk' && datum.s=='Pure Tissue Fractionation'"}], "mark": {"type": "point", "shape": "circle", "filled": true, "size": 200, "opacity": 1, "fill": "#A6A6A6", "stroke": "#6b6b6b", "strokeWidth": 1.3}},
    {"transform": [{"filter": "datum.p=='Husk' && datum.s=='Pure Tissue Weibull'"}], "mark": {"type": "line", "interpolate": "monotone", "stroke": "#8c8c8c", "strokeWidth": 2}},
    {"transform": [{"filter": "datum.p=='Husk' && datum.s=='6 inch cut'"}], "mark": {"type": "point", "shape": "triangle-up", "filled": true, "size": 289, "opacity": 1, "fill": "#ED7D31", "stroke": "#000", "strokeWidth": 1.3}},
    {"transform": [{"filter": "datum.p=='Husk' && datum.s=='6 inch Weibull'"}], "mark": {"type": "line", "interpolate": "monotone", "stroke": "#ED7D31", "strokeWidth": 3}},
    {"transform": [{"filter": "datum.p=='Husk' && datum.s=='3 inch cut'"}], "mark": {"type": "point", "shape": "diamond", "filled": true, "size": 240, "opacity": 1, "fill": "#ffffff", "stroke": "#000", "strokeWidth": 2.2}},
    {"transform": [{"filter": "datum.p=='Husk' && datum.s=='3 inch Weibull'"}], "mark": {"type": "line", "interpolate": "monotone", "stroke": "#000", "strokeWidth": 3, "strokeDash": [0.1, 6.5], "strokeCap": "round"}}
   ]},
  {"data": {"name": "labs"}, "transform": [{"filter": "datum.p=='Husk'"}], "mark": {"type": "text", "align": "right", "baseline": "alphabetic", "font": "Lato", "fontSize": 42, "fontWeight": "bold", "color": "#000"}, "encoding": {"x": {"datum": 12.3, "type": "quantitative"}, "y": {"datum": 0.0645, "type": "quantitative"}, "text": {"field": "lab", "type": "nominal"}}}
 ]
},
{
 "width": 413, "height": 339,
 "layer": [
  {"data": {"name": "d"},
   "encoding": {
    "x": {"field": "x", "type": "quantitative", "scale": {"domain": [0, 14], "nice": false, "zero": false}, "axis": {"values": [0,2,4,6,8,10,12,14], "title": null}},
    "y": {"field": "y", "type": "quantitative", "scale": {"domain": [0, 1.02], "nice": false}, "axis": {"values": [0,0.2,0.4,0.6,0.8,1], "format": ".0%", "title": null}}
   },
   "layer": [
    {"transform": [{"filter": "datum.p=='Sheath' && datum.s=='Pure Tissue Fractionation'"}], "mark": {"type": "point", "shape": "circle", "filled": true, "size": 200, "opacity": 1, "fill": "#A6A6A6", "stroke": "#6b6b6b", "strokeWidth": 1.3}},
    {"transform": [{"filter": "datum.p=='Sheath' && datum.s=='Pure Tissue Weibull'"}], "mark": {"type": "line", "interpolate": "monotone", "stroke": "#8c8c8c", "strokeWidth": 2}},
    {"transform": [{"filter": "datum.p=='Sheath' && datum.s=='6 inch cut'"}], "mark": {"type": "point", "shape": "triangle-up", "filled": true, "size": 289, "opacity": 1, "fill": "#ED7D31", "stroke": "#000", "strokeWidth": 1.3}},
    {"transform": [{"filter": "datum.p=='Sheath' && datum.s=='6 inch Weibull'"}], "mark": {"type": "line", "interpolate": "monotone", "stroke": "#ED7D31", "strokeWidth": 3}},
    {"transform": [{"filter": "datum.p=='Sheath' && datum.s=='3 inch cut'"}], "mark": {"type": "point", "shape": "diamond", "filled": true, "size": 240, "opacity": 1, "fill": "#ffffff", "stroke": "#000", "strokeWidth": 2.2}},
    {"transform": [{"filter": "datum.p=='Sheath' && datum.s=='3 inch Weibull'"}], "mark": {"type": "line", "interpolate": "monotone", "stroke": "#000", "strokeWidth": 3, "strokeDash": [0.1, 6.5], "strokeCap": "round"}}
   ]},
  {"data": {"name": "labs"}, "transform": [{"filter": "datum.p=='Sheath'"}], "mark": {"type": "text", "align": "right", "baseline": "alphabetic", "font": "Lato", "fontSize": 42, "fontWeight": "bold", "color": "#000"}, "encoding": {"x": {"datum": 12.61, "type": "quantitative"}, "y": {"datum": 0.057, "type": "quantitative"}, "text": {"field": "lab", "type": "nominal"}}}
 ]
},
{
 "width": 405, "height": 346,
 "layer": [
  {"data": {"name": "d"},
   "encoding": {
    "x": {"field": "x", "type": "quantitative", "scale": {"domain": [0, 14], "nice": false, "zero": false}, "axis": {"values": [0,2,4,6,8,10,12,14], "title": null}},
    "y": {"field": "y", "type": "quantitative", "scale": {"domain": [0, 1.02], "nice": false}, "axis": {"values": [0,0.2,0.4,0.6,0.8,1], "format": ".0%", "title": null}}
   },
   "layer": [
    {"transform": [{"filter": "datum.p=='Rind' && datum.s=='Pure Tissue Fractionation'"}], "mark": {"type": "point", "shape": "circle", "filled": true, "size": 200, "opacity": 1, "fill": "#A6A6A6", "stroke": "#6b6b6b", "strokeWidth": 1.3}},
    {"transform": [{"filter": "datum.p=='Rind' && datum.s=='Pure Tissue Weibull'"}], "mark": {"type": "line", "interpolate": "monotone", "stroke": "#8c8c8c", "strokeWidth": 2}},
    {"transform": [{"filter": "datum.p=='Rind' && datum.s=='6 inch cut'"}], "mark": {"type": "point", "shape": "triangle-up", "filled": true, "size": 289, "opacity": 1, "fill": "#ED7D31", "stroke": "#000", "strokeWidth": 1.3}},
    {"transform": [{"filter": "datum.p=='Rind' && datum.s=='6 inch Weibull'"}], "mark": {"type": "line", "interpolate": "monotone", "stroke": "#ED7D31", "strokeWidth": 3}},
    {"transform": [{"filter": "datum.p=='Rind' && datum.s=='3 inch cut'"}], "mark": {"type": "point", "shape": "diamond", "filled": true, "size": 240, "opacity": 1, "fill": "#ffffff", "stroke": "#000", "strokeWidth": 2.2}},
    {"transform": [{"filter": "datum.p=='Rind' && datum.s=='3 inch Weibull'"}], "mark": {"type": "line", "interpolate": "monotone", "stroke": "#000", "strokeWidth": 3, "strokeDash": [0.1, 6.5], "strokeCap": "round"}}
   ]},
  {"data": {"name": "labs"}, "transform": [{"filter": "datum.p=='Rind'"}], "mark": {"type": "text", "align": "right", "baseline": "alphabetic", "font": "Lato", "fontSize": 42, "fontWeight": "bold", "color": "#000"}, "encoding": {"x": {"datum": 12.55, "type": "quantitative"}, "y": {"datum": 0.0796, "type": "quantitative"}, "text": {"field": "lab", "type": "nominal"}}}
 ]
},
{
 "width": 417, "height": 331,
 "layer": [
  {"data": {"name": "d"},
   "encoding": {
    "x": {"field": "x", "type": "quantitative", "scale": {"domain": [0, 14], "nice": false, "zero": false}, "axis": {"values": [0,2,4,6,8,10,12,14], "title": null}},
    "y": {"field": "y", "type": "quantitative", "scale": {"domain": [0, 1.02], "nice": false}, "axis": {"values": [0,0.2,0.4,0.6,0.8,1], "format": ".0%", "title": null}}
   },
   "layer": [
    {"transform": [{"filter": "datum.p=='Leaf' && datum.s=='Pure Tissue Weibull'"}], "mark": {"type": "line", "interpolate": "monotone", "stroke": "#8c8c8c", "strokeWidth": 2}},
    {"transform": [{"filter": "datum.p=='Leaf' && datum.s=='6 inch Weibull'"}], "mark": {"type": "line", "interpolate": "monotone", "stroke": "#ED7D31", "strokeWidth": 3}},
    {"transform": [{"filter": "datum.p=='Leaf' && (datum.s=='Pure Tissue Fractionation' || datum.s=='6 inch cut' || datum.s=='3 inch cut')"}],
     "mark": {"type": "point", "filled": true, "opacity": 1, "strokeWidth": 1.6},
     "encoding": {
      "shape": {"field": "s", "type": "nominal", "scale": {"domain": ["Pure Tissue Fractionation", "Pure Tissue Weibull", "6 inch cut", "6 inch Weibull", "3 inch cut", "3 inch Weibull"], "range": ["circle", "M-3.4,0L3.4,0", "triangle-up", "M-3.4,0L3.4,0", "diamond", "M-3.4,0h0.3M-2.6,0h0.3M-1.8,0h0.3M-1.0,0h0.3M-0.2,0h0.3M0.6,0h0.3M1.4,0h0.3M2.2,0h0.3M3.0,0h0.3"]},
        "legend": {"title": " ", "titleOrient": "right", "titlePadding": 21, "titleFontSize": 1, "orient": "none", "legendX": 110, "legendY": 130, "direction": "vertical", "fillColor": "#ffffff", "strokeColor": "#000", "padding": 6, "labelFont": "Lato", "labelFontSize": 22, "labelFontWeight": "bold", "labelColor": "#1a1a1a", "symbolStrokeWidth": 2, "symbolOffset": 12, "labelOffset": 16, "rowPadding": 6, "labelLimit": 400, "encode": {"legend": {"update": {"strokeWidth": {"value": 2.5}}}}}},
      "fill": {"field": "s", "type": "nominal", "scale": {"domain": ["Pure Tissue Fractionation", "Pure Tissue Weibull", "6 inch cut", "6 inch Weibull", "3 inch cut", "3 inch Weibull"], "range": ["#A6A6A6", "transparent", "#ED7D31", "transparent", "#ffffff", "transparent"]}},
      "stroke": {"field": "s", "type": "nominal", "scale": {"domain": ["Pure Tissue Fractionation", "Pure Tissue Weibull", "6 inch cut", "6 inch Weibull", "3 inch cut", "3 inch Weibull"], "range": ["#6b6b6b", "#8c8c8c", "#000000", "#ED7D31", "#000000", "#000000"]}},
      "size": {"field": "s", "type": "nominal", "scale": {"domain": ["Pure Tissue Fractionation", "Pure Tissue Weibull", "6 inch cut", "6 inch Weibull", "3 inch cut", "3 inch Weibull"], "range": [200, 256, 289, 256, 240, 256]}}
     }},
    {"transform": [{"filter": "datum.p=='Leaf' && datum.s=='3 inch Weibull'"}], "mark": {"type": "line", "interpolate": "monotone", "stroke": "#000", "strokeWidth": 3, "strokeDash": [0.1, 6.5], "strokeCap": "round"}}
   ]},
  {"data": {"name": "labs"}, "transform": [{"filter": "datum.p=='Leaf'"}], "mark": {"type": "text", "align": "right", "baseline": "alphabetic", "font": "Lato", "fontSize": 42, "fontWeight": "bold", "color": "#000"}, "encoding": {"x": {"datum": 12.6, "type": "quantitative"}, "y": {"datum": 0.696, "type": "quantitative"}, "text": {"field": "lab", "type": "nominal"}}},
  {"data": {"name": "labs"}, "transform": [{"filter": "datum.p=='box'"}], "mark": {"type": "rect", "fill": "#FFC000", "stroke": "#000", "strokeWidth": 1.5}, "encoding": {"x": {"datum": -5.27, "type": "quantitative"}, "x2": {"datum": 10.65}, "y": {"datum": -0.302, "type": "quantitative"}, "y2": {"datum": -0.4}}},
  {"data": {"name": "labs"}, "transform": [{"filter": "datum.p=='year'"}], "mark": {"type": "text", "align": "left", "baseline": "alphabetic", "font": "Lato", "fontSize": 38, "color": "#000"}, "encoding": {"x": {"datum": -5.16, "type": "quantitative"}, "y": {"datum": -0.398, "type": "quantitative"}, "text": {"field": "lab", "type": "nominal"}}},
  {"data": {"name": "labs"}, "transform": [{"filter": "datum.p=='journal'"}], "mark": {"type": "text", "align": "left", "baseline": "alphabetic", "font": "Lato", "fontSize": 38, "fontStyle": "italic", "color": "#000"}, "encoding": {"x": {"datum": -1.6, "type": "quantitative"}, "y": {"datum": -0.398, "type": "quantitative"}, "text": {"field": "lab", "type": "nominal"}}}
 ]
},
{
 "width": 420, "height": 333,
 "layer": [
  {"data": {"name": "d"},
   "encoding": {
    "x": {"field": "x", "type": "quantitative", "scale": {"domain": [0, 14], "nice": false, "zero": false}, "axis": {"values": [0,2,4,6,8,10,12,14], "title": "Partition Velocity (m/s)", "titleX": 117, "titleY": 115, "titleAngle": 0, "titleAlign": "center", "titleBaseline": "alphabetic", "titleFontSize": 58}},
    "y": {"field": "y", "type": "quantitative", "scale": {"domain": [0, 1.02], "nice": false}, "axis": {"values": [0,0.2,0.4,0.6,0.8,1], "format": ".0%", "title": null}}
   },
   "layer": [
    {"transform": [{"filter": "datum.p=='Pith' && datum.s=='Pure Tissue Fractionation'"}], "mark": {"type": "point", "shape": "circle", "filled": true, "size": 200, "opacity": 1, "fill": "#A6A6A6", "stroke": "#6b6b6b", "strokeWidth": 1.3}},
    {"transform": [{"filter": "datum.p=='Pith' && datum.s=='Pure Tissue Weibull'"}], "mark": {"type": "line", "interpolate": "monotone", "stroke": "#8c8c8c", "strokeWidth": 2}},
    {"transform": [{"filter": "datum.p=='Pith' && datum.s=='6 inch cut'"}], "mark": {"type": "point", "shape": "triangle-up", "filled": true, "size": 289, "opacity": 1, "fill": "#ED7D31", "stroke": "#000", "strokeWidth": 1.3}},
    {"transform": [{"filter": "datum.p=='Pith' && datum.s=='6 inch Weibull'"}], "mark": {"type": "line", "interpolate": "monotone", "stroke": "#ED7D31", "strokeWidth": 3}},
    {"transform": [{"filter": "datum.p=='Pith' && datum.s=='3 inch cut'"}], "mark": {"type": "point", "shape": "diamond", "filled": true, "size": 240, "opacity": 1, "fill": "#ffffff", "stroke": "#000", "strokeWidth": 2.2}},
    {"transform": [{"filter": "datum.p=='Pith' && datum.s=='3 inch Weibull'"}], "mark": {"type": "line", "interpolate": "monotone", "stroke": "#000", "strokeWidth": 3, "strokeDash": [0.1, 6.5], "strokeCap": "round"}}
   ]},
  {"data": {"name": "labs"}, "transform": [{"filter": "datum.p=='Pith'"}], "mark": {"type": "text", "align": "right", "baseline": "alphabetic", "font": "Lato", "fontSize": 42, "fontWeight": "bold", "color": "#000"}, "encoding": {"x": {"datum": 12.12, "type": "quantitative"}, "y": {"datum": 0.0704, "type": "quantitative"}, "text": {"field": "lab", "type": "nominal"}}}
 ]
},
{
 "width": 415, "height": 335,
 "layer": [
  {"data": {"name": "d"},
   "encoding": {
    "x": {"field": "x", "type": "quantitative", "scale": {"domain": [0, 15], "nice": false, "zero": false}, "axis": {"values": [0,2,4,6,8,10,12,14], "title": null}},
    "y": {"field": "y", "type": "quantitative", "scale": {"domain": [0, 1.02], "nice": false}, "axis": {"values": [0,0.2,0.4,0.6,0.8,1], "format": ".0%", "title": null}}
   },
   "layer": [
    {"transform": [{"filter": "datum.p=='Cob' && datum.s=='Pure Tissue Fractionation'"}], "mark": {"type": "point", "shape": "circle", "filled": true, "size": 200, "opacity": 1, "fill": "#A6A6A6", "stroke": "#6b6b6b", "strokeWidth": 1.3}},
    {"transform": [{"filter": "datum.p=='Cob' && datum.s=='Pure Tissue Weibull'"}], "mark": {"type": "line", "interpolate": "monotone", "stroke": "#8c8c8c", "strokeWidth": 2}},
    {"transform": [{"filter": "datum.p=='Cob' && datum.s=='6 inch cut'"}], "mark": {"type": "point", "shape": "triangle-up", "filled": true, "size": 289, "opacity": 1, "fill": "#ED7D31", "stroke": "#000", "strokeWidth": 1.3}},
    {"transform": [{"filter": "datum.p=='Cob' && datum.s=='6 inch Weibull'"}], "mark": {"type": "line", "interpolate": "monotone", "stroke": "#ED7D31", "strokeWidth": 3}},
    {"transform": [{"filter": "datum.p=='Cob' && datum.s=='3 inch cut'"}], "mark": {"type": "point", "shape": "diamond", "filled": true, "size": 240, "opacity": 1, "fill": "#ffffff", "stroke": "#000", "strokeWidth": 2.2}},
    {"transform": [{"filter": "datum.p=='Cob' && datum.s=='3 inch Weibull'"}], "mark": {"type": "line", "interpolate": "monotone", "stroke": "#000", "strokeWidth": 3, "strokeDash": [0.1, 6.5], "strokeCap": "round"}}
   ]},
  {"data": {"name": "labs"}, "transform": [{"filter": "datum.p=='Cob'"}], "mark": {"type": "text", "align": "right", "baseline": "alphabetic", "font": "Lato", "fontSize": 42, "fontWeight": "bold", "color": "#000"}, "encoding": {"x": {"datum": 13.42, "type": "quantitative"}, "y": {"datum": 0.07, "type": "quantitative"}, "text": {"field": "lab", "type": "nominal"}}}
 ]
}
]
}
